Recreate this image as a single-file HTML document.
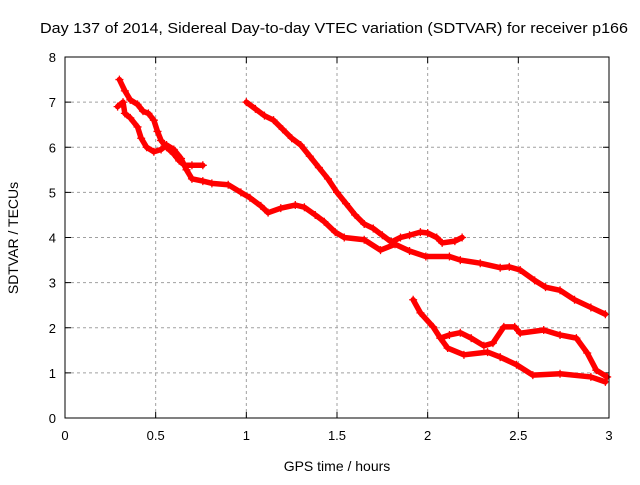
<!DOCTYPE html>
<html><head><meta charset="utf-8"><style>
body{margin:0;background:#fff;}
svg text{font-family:"Liberation Sans",sans-serif;}
</style></head><body>
<svg id="chart" width="640" height="480" xmlns="http://www.w3.org/2000/svg">
<text x="40" y="33" font-size="15" textLength="588" lengthAdjust="spacingAndGlyphs">Day 137 of 2014, Sidereal Day-to-day VTEC variation (SDTVAR) for receiver p166</text>
<text x="337" y="471" font-size="14" text-anchor="middle">GPS time / hours</text>
<text transform="translate(18,238) rotate(-90)" font-size="14" text-anchor="middle">SDTVAR / TECUs</text>
<g id="grid"></g><g id="ticks"></g><g id="marks"></g>
<rect x="65" y="57" width="544" height="361" fill="none" stroke="#000" stroke-width="1"/>
</svg>
<script>
const xTicks=[0,0.5,1,1.5,2,2.5,3];
const xTickLabels=["0","0.5","1","1.5","2","2.5","3"];
const yTicks=[0,1,2,3,4,5,6,7,8];
const yTickLabels=["0","1","2","3","4","5","6","7","8"];
const trackAx=[0.30,0.33,0.36,0.40,0.43,0.46,0.49,0.51,0.53,0.56,0.60,0.63,0.66,0.70,0.76];
const trackAy=[7.5,7.25,7.05,6.95,6.8,6.75,6.6,6.35,6.15,6.0,5.85,5.7,5.6,5.6,5.6];
const trackBx=[0.29,0.32,0.33,0.36,0.40,0.42,0.45,0.49,0.53,0.56,0.60,0.64,0.67,0.70,0.76,0.81,0.90,0.97,1.02,1.08,1.12,1.19,1.27,1.32,1.38,1.43,1.49,1.54,1.65,1.74,1.82,1.90,1.99,2.12,2.18,2.29,2.40,2.45,2.51,2.59,2.65,2.73,2.81,2.90,2.98];
const trackBy=[6.9,7.0,6.75,6.65,6.45,6.2,6.0,5.9,5.95,6.05,5.95,5.75,5.5,5.3,5.25,5.2,5.17,5.0,4.88,4.7,4.55,4.65,4.72,4.67,4.5,4.35,4.12,4.0,3.95,3.72,3.85,3.7,3.58,3.58,3.5,3.43,3.33,3.35,3.28,3.05,2.9,2.83,2.62,2.45,2.3];
const trackCx=[1.0,1.05,1.1,1.15,1.2,1.25,1.3,1.35,1.4,1.45,1.5,1.55,1.6,1.65,1.7,1.75,1.8,1.85,1.9,1.96,2.0,2.05,2.08,2.15,2.19];
const trackCy=[7.0,6.85,6.7,6.6,6.4,6.2,6.05,5.8,5.55,5.3,5.0,4.75,4.5,4.3,4.2,4.05,3.9,4.0,4.05,4.12,4.1,4.0,3.88,3.92,4.0];
const trackDx=[1.92,1.96,2.03,2.07,2.11,2.2,2.33,2.4,2.49,2.58,2.73,2.9,2.98];
const trackDy=[2.62,2.33,2.02,1.77,1.55,1.40,1.46,1.35,1.18,0.95,0.98,0.91,0.8];
const trackEx=[2.07,2.12,2.18,2.24,2.31,2.36,2.42,2.48,2.51,2.64,2.73,2.82,2.88,2.93,2.99];
const trackEy=[1.77,1.84,1.89,1.77,1.6,1.66,2.02,2.02,1.88,1.95,1.84,1.77,1.44,1.06,0.91];
const X0=65,X1=609,Y0=418,Y1=57;
const sx=v=>X0+(v-0)/(3-0)*(X1-X0);
const sy=v=>Y0-(v-0)/(8-0)*(Y0-Y1);
const NS="http://www.w3.org/2000/svg";
function mk(t,a,p){const e=document.createElementNS(NS,t);for(const k in a)e.setAttribute(k,a[k]);p.appendChild(e);return e;}
const grid=document.getElementById('grid'),ticks=document.getElementById('ticks'),marks=document.getElementById('marks');
xTicks.forEach((v,i)=>{const x=sx(v);
 if(i>0&&i<xTicks.length-1){const g=mk('line',{x1:x,x2:x,y1:Y0,y2:Y1,stroke:'#a0a0a0','stroke-dasharray':'3,3'},grid);
 
 }
 mk('line',{x1:x,x2:x,y1:Y0,y2:Y0-6,stroke:'#000'},ticks);mk('line',{x1:x,x2:x,y1:Y1,y2:Y1+6,stroke:'#000'},ticks);
 const t=mk('text',{x:x,y:Y0+22,'font-size':13,'text-anchor':'middle'},ticks);t.textContent=xTickLabels[i];
 
 });
yTicks.forEach((v,i)=>{const y=sy(v);
 if(i>0&&i<yTicks.length-1){const g=mk('line',{x1:X0,x2:X1,y1:y,y2:y,stroke:'#a0a0a0','stroke-dasharray':'3,3'},grid);
 
 }
 mk('line',{x1:X0,x2:X0+6,y1:y,y2:y,stroke:'#000'},ticks);mk('line',{x1:X1,x2:X1-6,y1:y,y2:y,stroke:'#000'},ticks);
 const t=mk('text',{x:X0-9,y:y+5,'font-size':13,'text-anchor':'end'},ticks);t.textContent=yTickLabels[i];
 
 });
function track(xs,ys,name){
 const g=mk('g',{},marks);
 
 
 mk('polyline',{points:xs.map((x,i)=>sx(x)+','+sy(ys[i])).join(' '),fill:'none',stroke:'#f00','stroke-width':5.5,'stroke-linejoin':'round','stroke-linecap':'round'},g);
 xs.forEach((x,i)=>{const px=sx(x),py=sy(ys[i]);
  mk('path',{d:`M${px-4},${py}H${px+4}M${px},${py-4}V${py+4}`,stroke:'#f00','stroke-width':1.3},g);});
}
track(trackAx,trackAy,'track-a');
track(trackBx,trackBy,'track-b');
track(trackCx,trackCy,'track-c');
track(trackDx,trackDy,'track-d');
track(trackEx,trackEy,'track-e');
</script>
</body></html>
